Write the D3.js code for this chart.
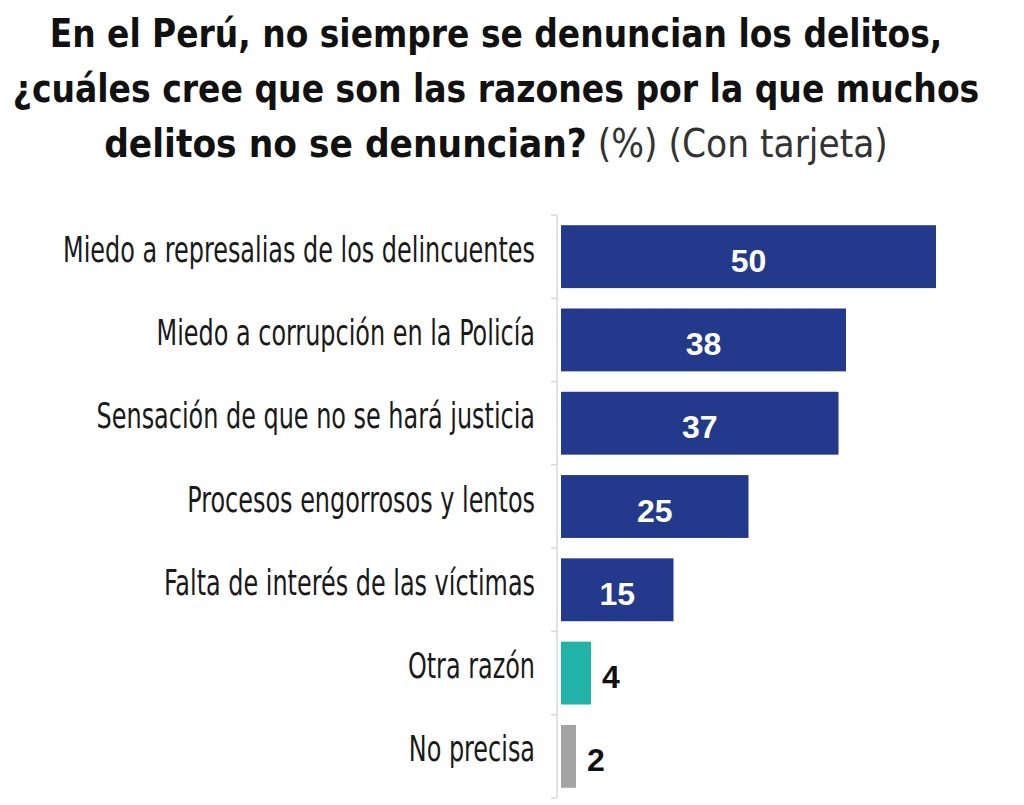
<!DOCTYPE html>
<html>
<head>
<meta charset="utf-8">
<script src="https://cdn.jsdelivr.net/npm/d3@7"></script>
<style>
  html, body { margin: 0; padding: 0; background: #fff; }
  svg { display: block; }
</style>
</head>
<body>
<div id="chart"></div>
<script>
// Data
const categories = [
  'Miedo a represalias de los delincuentes',
  'Miedo a corrupción en la Policía',
  'Sensación de que no se hará justicia',
  'Procesos engorrosos y lentos',
  'Falta de interés de las víctimas',
  'Otra razón',
  'No precisa',
];
const values = [50, 38, 37, 25, 15, 4, 2];
const barColors = ['#233a8c', '#233a8c', '#233a8c', '#233a8c', '#233a8c', '#22b3a8', '#a4a4a4'];
const titleLines = [
  [{ t: 'En el Perú, no siempre se denuncian los delitos,', bold: true }],
  [{ t: '¿cuáles cree que son las razones por la que muchos', bold: true }],
  [{ t: 'delitos no se denuncian?', bold: true }, { t: ' (%) (Con tarjeta)', bold: false }],
];

const width = 1024;
const height = 805;

const svg = d3.select('#chart').append('svg')
  .attr('width', width)
  .attr('height', height);

// Title: each line squeezed horizontally to the reference width
const titleBase = [47, 102, 157];
const titleWidth = [893, 967, 784];
titleLines.forEach((parts, i) => {
  const t = svg.append('text')
    .attr('text-anchor', 'middle')
    .style('font-family', '"Liberation Sans Narrow", "DejaVu Sans Condensed", sans-serif')
    .style('font-size', '39px')
    .style('fill', '#111');
  parts.forEach((p) => {
    t.append('tspan')
      .text(p.t)
      .style('font-weight', p.bold ? 'bold' : 'normal')
      .style('fill', p.bold ? '#111' : '#333');
  });
  const k = titleWidth[i] / t.node().getComputedTextLength();
  t.attr('transform', `translate(496, ${titleBase[i]}) scale(${k}, 1)`);
});

// Scales
const x = d3.scaleLinear()
  .domain([0, 50])
  .range([561, 936]);

const y = d3.scaleBand()
  .domain(categories)
  .range([215, 798])
  .paddingInner(0.245)
  .paddingOuter(0.1225);

// Axis line with ticks at band boundaries
const axisX = 557;
const half = (y.step() * y.paddingInner()) / 2;
const bounds = categories.map(c => y(c) - half);
bounds.push(y(categories[categories.length - 1]) + y.bandwidth() + half);

svg.append('line')
  .attr('x1', axisX).attr('x2', axisX)
  .attr('y1', bounds[0]).attr('y2', bounds[bounds.length - 1])
  .style('stroke', '#d9d9d9')
  .style('stroke-width', 1.5);

svg.selectAll('.tick')
  .data(bounds)
  .enter().append('line')
  .attr('class', 'tick')
  .attr('x1', axisX - 6).attr('x2', axisX)
  .attr('y1', d => d).attr('y2', d => d)
  .style('stroke', '#d9d9d9')
  .style('stroke-width', 1.5);

// Bars
const data = categories.map((c, i) => ({ c, v: values[i], color: barColors[i] }));

svg.selectAll('.bar')
  .data(data)
  .enter().append('rect')
  .attr('class', 'bar')
  .attr('x', x(0))
  .attr('y', d => y(d.c))
  .attr('width', d => x(d.v) - x(0))
  .attr('height', y.bandwidth())
  .style('fill', d => d.color);

// Category labels (right aligned, condensed)
const labels = svg.selectAll('.label')
  .data(data)
  .enter().append('text')
  .attr('class', 'label')
  .attr('text-anchor', 'end')
  .style('font-family', '"Liberation Sans Narrow", "DejaVu Sans Condensed", sans-serif')
  .style('font-size', '35px')
  .style('fill', '#1a1a1a')
  .text(d => d.c);

const longest = labels.nodes()[0].getComputedTextLength();
const sx = 472 / longest;
labels.attr('transform', d => `translate(535, ${y(d.c) + y.bandwidth() / 2 + 5}) scale(${sx}, 1)`);

// Value labels
svg.selectAll('.value')
  .data(data)
  .enter().append('text')
  .attr('class', 'value')
  .attr('x', d => (d.v >= 10 ? (x(0) + x(d.v)) / 2 : x(d.v) + 11))
  .attr('y', d => y(d.c) + y.bandwidth() / 2 + 15)
  .attr('text-anchor', d => (d.v >= 10 ? 'middle' : 'start'))
  .style('font-family', '"Liberation Sans", Arial, sans-serif')
  .style('font-weight', 'bold')
  .style('font-size', '32px')
  .style('fill', d => (d.v >= 10 ? '#fff' : '#111'))
  .text(d => d.v);
</script>
</body>
</html>
